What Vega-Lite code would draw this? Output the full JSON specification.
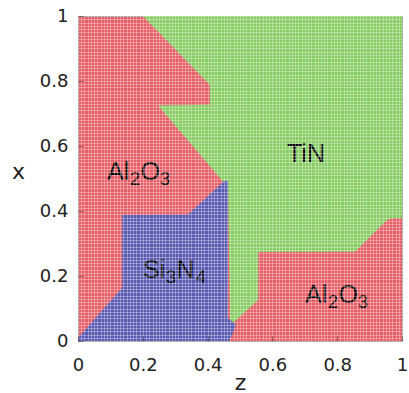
{
  "$schema": "https://vega.github.io/schema/vega-lite/v6.json",
  "autosize": "none",
  "padding": {"left": 78, "top": 16, "right": 7, "bottom": 52},
  "width": 324,
  "height": 325,
  "config": {
    "view": {"fill": "#e65e66", "stroke": "#8a8a8a", "strokeWidth": 1},
    "font": "DejaVu Sans"
  },
  "datasets": {
    "regions": [
      {"region": "TiN", "h": 0, "zl": 0.47, "zr": 1},
      {"region": "TiN", "h": 0.48, "zl": 0.463, "zr": 1},
      {"region": "TiN", "h": 0.495, "zl": 0.444, "zr": 1},
      {"region": "TiN", "h": 0.725, "zl": 0.247, "zr": 1},
      {"region": "TiN", "h": 0.727, "zl": 0.407, "zr": 1},
      {"region": "TiN", "h": 0.788, "zl": 0.407, "zr": 1},
      {"region": "TiN", "h": 1, "zl": 0.2, "zr": 1},
      {"region": "Al2O3b", "h": 0, "zl": 0.466, "zr": 1},
      {"region": "Al2O3b", "h": 0.058, "zl": 0.481, "zr": 1},
      {"region": "Al2O3b", "h": 0.126, "zl": 0.556, "zr": 1},
      {"region": "Al2O3b", "h": 0.274, "zl": 0.556, "zr": 1},
      {"region": "Al2O3b", "h": 0.275, "zl": 0.855, "zr": 1},
      {"region": "Al2O3b", "h": 0.372, "zl": 0.954, "zr": 1},
      {"region": "Al2O3b", "h": 0.377, "zl": 0.965, "zr": 1},
      {"region": "Al2O3b", "h": 0.379, "zl": 1, "zr": 1},
      {"region": "Si3N4", "h": 0, "zl": 0, "zr": 0.466},
      {"region": "Si3N4", "h": 0.009, "zl": 0, "zr": 0.471},
      {"region": "Si3N4", "h": 0.049, "zl": 0.035, "zr": 0.488},
      {"region": "Si3N4", "h": 0.071, "zl": 0.054, "zr": 0.463},
      {"region": "Si3N4", "h": 0.163, "zl": 0.136, "zr": 0.463},
      {"region": "Si3N4", "h": 0.388, "zl": 0.136, "zr": 0.463},
      {"region": "Si3N4", "h": 0.389, "zl": 0.34, "zr": 0.463},
      {"region": "Si3N4", "h": 0.492, "zl": 0.451, "zr": 0.463}
    ],
    "labels": [
      {"p1": "Al", "p2": "2", "p3": "O", "p4": "3", "z": 0.0895, "x": 0.495},
      {"p1": "TiN", "p2": "", "p3": "", "p4": "", "z": 0.645, "x": 0.551},
      {"p1": "Si", "p2": "3", "p3": "N", "p4": "4", "z": 0.2006, "x": 0.194},
      {"p1": "Al", "p2": "2", "p3": "O", "p4": "3", "z": 0.7006, "x": 0.117}
    ]
  },
  "resolve": {"axis": {"x": "independent", "y": "independent"}},
  "layer": [
    {
      "layer": [
        {
          "data": {"name": "regions"},
          "transform": [{"filter": "datum.region === 'TiN'"}],
          "mark": {"type": "area", "orient": "horizontal", "color": "#88cc64", "opacity": 1},
          "encoding": {
            "y": {"field": "h", "type": "quantitative", "scale": {"domain": [0, 1], "nice": false, "zero": false}},
            "x": {"field": "zl", "type": "quantitative", "scale": {"domain": [0, 1], "nice": false, "zero": false}},
            "x2": {"field": "zr"}
          }
        },
        {
          "data": {"name": "regions"},
          "transform": [{"filter": "datum.region === 'Al2O3b'"}],
          "mark": {"type": "area", "orient": "horizontal", "color": "#e65e66", "opacity": 1},
          "encoding": {
            "y": {"field": "h", "type": "quantitative"},
            "x": {"field": "zl", "type": "quantitative"},
            "x2": {"field": "zr"}
          }
        },
        {
          "data": {"name": "regions"},
          "transform": [{"filter": "datum.region === 'Si3N4'"}],
          "mark": {"type": "area", "orient": "horizontal", "color": "#5a5ab2", "opacity": 1},
          "encoding": {
            "y": {"field": "h", "type": "quantitative"},
            "x": {"field": "zl", "type": "quantitative"},
            "x2": {"field": "zr"}
          }
        }
      ],
      "encoding": {
        "x": {"axis": {"orient": "bottom", "values": [0, 0.2, 0.4, 0.6, 0.8, 1], "format": "~g", "grid": false, "domain": false, "tickSize": -5, "tickColor": "#000", "tickOpacity": 0.4, "labelPadding": 20, "labelFontSize": 18, "labelFont": "DejaVu Sans", "labelColor": "#222", "title": "z", "titleFontSize": 22, "titleFontWeight": "normal", "titleFont": "DejaVu Sans", "titleColor": "#222", "titleAnchor": "middle", "titleBaseline": "alphabetic", "titleY": 48, "labelFlush": false, "zindex": 2}},
        "y": {"axis": {"orient": "left", "values": [0, 0.2, 0.4, 0.6, 0.8, 1], "format": "~g", "grid": false, "domain": false, "tickSize": -5, "tickColor": "#000", "tickOpacity": 0.4, "labelPadding": 15, "labelFontSize": 18, "labelFont": "DejaVu Sans", "labelColor": "#222", "labelBaseline": "middle", "title": "x", "titleAngle": 0, "titleFontSize": 22, "titleFontWeight": "normal", "titleFont": "DejaVu Sans", "titleColor": "#222", "titleAlign": "center", "titleBaseline": "alphabetic", "titleX": -60, "titleY": 162, "labelFlush": false, "zindex": 2}}
      }
    },
    {
      "data": {"name": "labels"},
      "encoding": {
        "x": {"field": "z", "type": "quantitative", "axis": {"orient": "top", "values": [0,0.01,0.02,0.03,0.04,0.05,0.06,0.07,0.08,0.09,0.1,0.11,0.12,0.13,0.14,0.15,0.16,0.17,0.18,0.19,0.2,0.21,0.22,0.23,0.24,0.25,0.26,0.27,0.28,0.29,0.3,0.31,0.32,0.33,0.34,0.35,0.36,0.37,0.38,0.39,0.4,0.41,0.42,0.43,0.44,0.45,0.46,0.47,0.48,0.49,0.5,0.51,0.52,0.53,0.54,0.55,0.56,0.57,0.58,0.59,0.6,0.61,0.62,0.63,0.64,0.65,0.66,0.67,0.68,0.69,0.7,0.71,0.72,0.73,0.74,0.75,0.76,0.77,0.78,0.79,0.8,0.81,0.82,0.83,0.84,0.85,0.86,0.87,0.88,0.89,0.9,0.91,0.92,0.93,0.94,0.95,0.96,0.97,0.98,0.99,1], "labels": false, "ticks": false, "domain": false, "title": null, "grid": true, "gridColor": "#ffffff", "gridOpacity": 0.32, "gridWidth": 1, "zindex": 1}},
        "y": {"field": "x", "type": "quantitative", "axis": {"orient": "right", "values": [0,0.01,0.02,0.03,0.04,0.05,0.06,0.07,0.08,0.09,0.1,0.11,0.12,0.13,0.14,0.15,0.16,0.17,0.18,0.19,0.2,0.21,0.22,0.23,0.24,0.25,0.26,0.27,0.28,0.29,0.3,0.31,0.32,0.33,0.34,0.35,0.36,0.37,0.38,0.39,0.4,0.41,0.42,0.43,0.44,0.45,0.46,0.47,0.48,0.49,0.5,0.51,0.52,0.53,0.54,0.55,0.56,0.57,0.58,0.59,0.6,0.61,0.62,0.63,0.64,0.65,0.66,0.67,0.68,0.69,0.7,0.71,0.72,0.73,0.74,0.75,0.76,0.77,0.78,0.79,0.8,0.81,0.82,0.83,0.84,0.85,0.86,0.87,0.88,0.89,0.9,0.91,0.92,0.93,0.94,0.95,0.96,0.97,0.98,0.99,1], "labels": false, "ticks": false, "domain": false, "title": null, "grid": true, "gridColor": "#ffffff", "gridOpacity": 0.32, "gridWidth": 1, "zindex": 1}}
      },
      "layer": [
        {"mark": {"type": "text", "font": "Liberation Sans", "fontSize": 25, "color": "#000", "baseline": "alphabetic", "align": "left", "dx": 0}, "encoding": {"text": {"field": "p1", "type": "nominal"}}},
        {"mark": {"type": "text", "font": "Liberation Sans", "fontSize": 18, "color": "#000", "baseline": "alphabetic", "align": "left", "dx": 23, "dy": 5}, "encoding": {"text": {"field": "p2", "type": "nominal"}}},
        {"mark": {"type": "text", "font": "Liberation Sans", "fontSize": 25, "color": "#000", "baseline": "alphabetic", "align": "left", "dx": 33.5}, "encoding": {"text": {"field": "p3", "type": "nominal"}}},
        {"mark": {"type": "text", "font": "Liberation Sans", "fontSize": 18, "color": "#000", "baseline": "alphabetic", "align": "left", "dx": 53, "dy": 5}, "encoding": {"text": {"field": "p4", "type": "nominal"}}}
      ]
    }
  ]
}
